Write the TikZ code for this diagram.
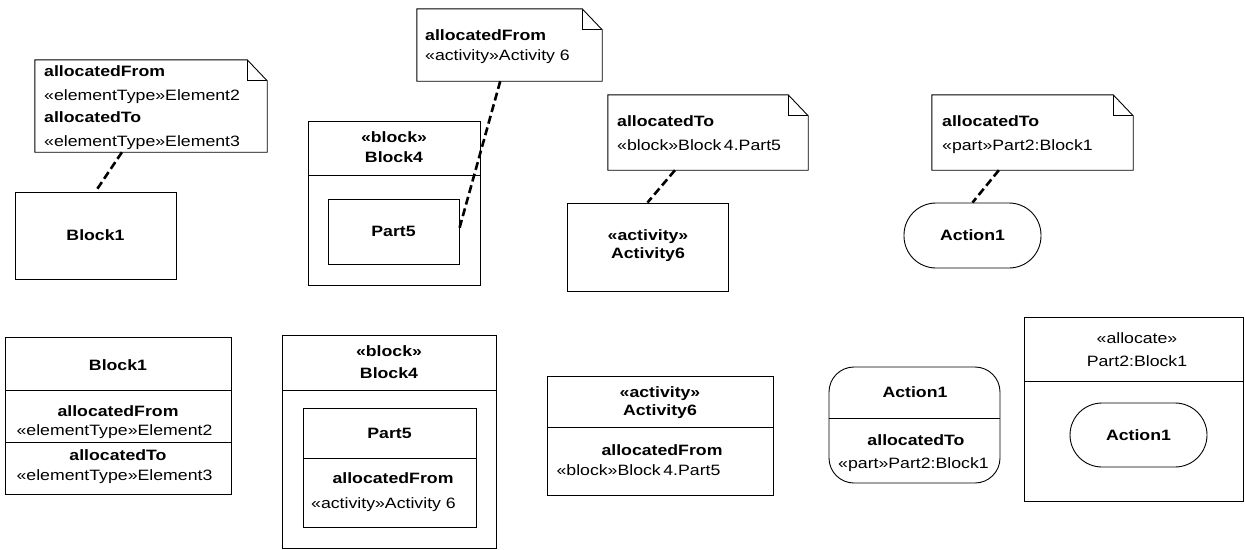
\documentclass[tikz,border=0pt]{standalone}
\usepackage{fontspec}
\setmainfont{Liberation Sans}[FakeStretch=1.18]
\usetikzlibrary{calc}
\newcommand\notebox[1]{%
  \draw[edge] (#1.south west) -- (#1.north west) -- ([xshift=-20pt]#1.north east)
    -- ([yshift=-21pt]#1.north east) -- (#1.south east) -- cycle;
  \draw[edge] ([xshift=-20pt]#1.north east) |- ([yshift=-21pt]#1.north east);}
\begin{document}
\begin{tikzpicture}[x=1pt,y=-1pt,
  every node/.style={font=\fontsize{15}{18}\selectfont},
  box/.style={draw, line width=0.9pt, inner sep=0pt},
  note/.style={inner sep=0pt},
  lbl/.style={inner sep=0pt, text height=10.7pt, text depth=0pt},
  conn/.style={line width=2.6pt, dash pattern=on 8pt off 4pt},
  edge/.style={line width=0.9pt}]
\fill[white] (0,0) rectangle (1245,549);
\useasboundingbox (0,0) rectangle (1245,549);

% ---------- top row ----------
% note 1
\node[note, minimum width=232, minimum height=92] (note1) at (151,106) {};
\notebox{note1}
\node[lbl, anchor=west] (n1a) at (44,71) {\bfseries allocatedFrom};
\node[lbl, anchor=west] (n1b) at (44,95) {«elementType»Element2};
\node[lbl, anchor=west] (n1c) at (44,117) {\bfseries allocatedTo};
\node[lbl, anchor=west] (n1d) at (44,141) {«elementType»Element3};
% Block1
\node[box, minimum width=161, minimum height=87] (blk1) at (95.5,235.5) {\bfseries Block1};

% note 2
\node[note, minimum width=185, minimum height=72] (note2) at (509.5,45) {};
\notebox{note2}
\node[lbl, anchor=west] (n2a) at (425,35) {\bfseries allocatedFrom};
\node[lbl, anchor=west] (n2b) at (425,55) {«activity»Activity 6};
% Block4 with Part5
\node[box, minimum width=172, minimum height=164] (blk4a) at (394,203) {};
\draw[edge] (308,175) -- (480,175);
\node[lbl] (b4s) at (394,137) {\bfseries «block»};
\node[lbl] (b4n) at (394,157) {\bfseries Block4};
\node[box, minimum width=131, minimum height=65] (part5a) at (393.5,231.5) {\bfseries Part5};

% note 3
\node[note, minimum width=200, minimum height=75] (note3) at (708,132.5) {};
\notebox{note3}
\node[lbl, anchor=west] (n3a) at (617,121) {\bfseries allocatedTo};
\node[lbl, anchor=west] (n3b) at (617,145) {«block»Block\,4.Part5};
% Activity6
\node[box, minimum width=161, minimum height=88] (act6a) at (647.5,247) {};
\node[lbl] (a6s) at (648,235) {\bfseries «activity»};
\node[lbl] (a6n) at (648,253) {\bfseries Activity6};

% note 4
\node[note, minimum width=201, minimum height=75] (note4) at (1032.5,132.5) {};
\notebox{note4}
\node[lbl, anchor=west] (n4a) at (942,121) {\bfseries allocatedTo};
\node[lbl, anchor=west] (n4b) at (942,145) {«part»Part2:Block1};
% Action1
\node[box, rounded corners=32pt, minimum width=137, minimum height=65] (act1a) at (972.5,235.5) {\bfseries Action1};

% connectors
\draw[conn] ($(note1.south west)!0.375!(note1.south east)$) -- (blk1.north);
\draw[conn] ($(note2.south west)!0.45!(note2.south east)$) -- ($(part5a.north east)!0.45!(part5a.south east)$);
\draw[conn] ($(note3.south west)!0.335!(note3.south east)$) -- (act6a.north);
\draw[conn] ($(note4.south west)!0.333!(note4.south east)$) -- (act1a.north);

% ---------- bottom row ----------
% Block1 with compartments
\node[box, minimum width=226, minimum height=157] (blk1b) at (118,415.5) {};
\draw[edge] (5,390) -- (231,390);
\draw[edge] (5,442) -- (231,442);
\node[lbl] (bb1n) at (118,365) {\bfseries Block1};
\node[lbl] (bb1a) at (118,411) {\bfseries allocatedFrom};
\node[lbl] (bb1b) at (114.5,430) {«elementType»Element2};
\node[lbl] (bb1c) at (118,455) {\bfseries allocatedTo};
\node[lbl] (bb1d) at (114.5,475) {«elementType»Element3};

% Block4 with Part5 compartments
\node[box, minimum width=214, minimum height=213] (blk4b) at (389,441.5) {};
\draw[edge] (282,390) -- (496,390);
\node[lbl] (bb4s) at (389,351) {\bfseries «block»};
\node[lbl] (bb4n) at (389,373) {\bfseries Block4};
\node[box, minimum width=173, minimum height=119] (part5b) at (389.5,467.5) {};
\draw[edge] (303,458) -- (476,458);
\node[lbl] (p5n) at (389.5,433) {\bfseries Part5};
\node[lbl] (p5a) at (393,478) {\bfseries allocatedFrom};
\node[lbl] (p5b) at (383.5,503) {«activity»Activity 6};

% Activity6 with compartment
\node[box, minimum width=226, minimum height=119] (act6b) at (660,435.5) {};
\draw[edge] (547,427) -- (773,427);
\node[lbl] (ba6s) at (660,392) {\bfseries «activity»};
\node[lbl] (ba6n) at (660,410) {\bfseries Activity6};
\node[lbl] (ba6a) at (662,450) {\bfseries allocatedFrom};
\node[lbl] (ba6b) at (638.5,470) {«block»Block\,4.Part5};

% Action1 with compartment
\node[box, rounded corners=25pt, minimum width=171, minimum height=116] (act1b) at (914.5,425) {};
\draw[edge] (829,418) -- (1000,418);
\node[lbl] (ba1n) at (915,392) {\bfseries Action1};
\node[lbl] (ba1a) at (916,440) {\bfseries allocatedTo};
\node[lbl] (ba1b) at (913.5,463) {«part»Part2:Block1};

% allocate partition
\node[box, minimum width=219, minimum height=184] (alloc) at (1133.5,409) {};
\draw[edge] (1024,381) -- (1243,381);
\node[lbl] (als) at (1137,338) {«allocate»};
\node[lbl] (aln) at (1137,361) {Part2:Block1};
\node[box, rounded corners=32pt, minimum width=137, minimum height=64] (act1c) at (1138.5,435) {\bfseries Action1};
\end{tikzpicture}
\end{document}
